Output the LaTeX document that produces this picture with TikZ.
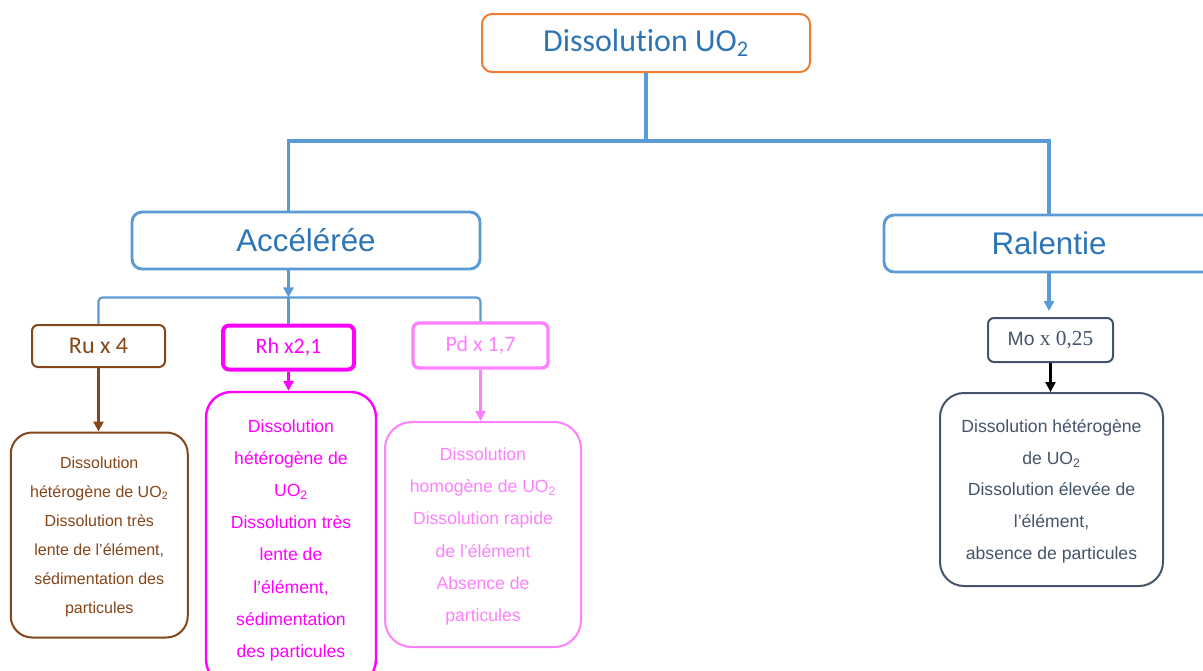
\documentclass[tikz,border=0pt]{standalone}
\usepackage{fontspec}
\setmainfont{Liberation Sans}
\newfontfamily\calib[Ligatures=NoCommon]{Carlito}
\newfontfamily\serifm{Liberation Serif}
\usetikzlibrary{arrows.meta}
\definecolor{lineblue}{HTML}{5B9BD5}
\definecolor{textblue}{HTML}{2E75B6}
\definecolor{orangeb}{HTML}{ED7D31}
\definecolor{brownc}{HTML}{85461A}
\definecolor{mag}{HTML}{FF00FF}
\definecolor{pinkc}{HTML}{FF80FF}
\definecolor{slate}{HTML}{44546A}
\newcommand{\blkdown}[1]{\raisebox{-2.5pt}{\begin{tabular}{@{}c@{}}#1\end{tabular}}}
\begin{document}
\begin{tikzpicture}[x=0.75pt,y=-0.75pt,
  box/.style={draw, fill=white, inner sep=0pt, align=center},
  conn/.style={draw=lineblue, line width=2.3pt},
  thinconn/.style={draw=lineblue, line width=1.6pt, rounded corners=3pt},
  tip/.style={-{Triangle[length=7.5pt,width=7.5pt]}},
  big/.style={font=\fontsize{23.5}{28}\selectfont, text=textblue},
]
\useasboundingbox (0,0) rectangle (1203,671);
\clip (0,0) rectangle (1203,671);
% nodes
\node[box, draw=orangeb, line width=1.5pt, rounded corners=7.5pt, minimum width=246pt, minimum height=43.5pt, text=textblue, font=\calib\fontsize{24}{28}\selectfont] (title) at (646,43) {\raisebox{-1.5pt}{Dissolution UO\textsubscript{2}}};
\node[box, big, draw=lineblue, line width=2.2pt, rounded corners=7.5pt, minimum width=261pt, minimum height=42.75pt] (acc) at (306,240.5) {Accélérée};
\node[box, big, draw=lineblue, line width=2.2pt, rounded corners=7.5pt, minimum width=247.5pt, minimum height=42.75pt] (ral) at (1049,243.5) {Ralentie};
\node[box, draw=brownc, text=brownc, line width=1.5pt, rounded corners=4.5pt, minimum width=99.75pt, minimum height=31.5pt, font=\calib\fontsize{18}{20}\selectfont] (ru) at (98.5,346) {Ru x 4};
\node[box, draw=mag, text=mag, line width=3pt, rounded corners=4.5pt, minimum width=98.25pt, minimum height=33pt, font=\calib\fontsize{16.5}{20}\selectfont] (rh) at (288.5,347.5) {Rh x2,1};
\node[box, draw=pinkc, text=pinkc, line width=2.5pt, rounded corners=4.5pt, minimum width=101.25pt, minimum height=33.75pt, font=\calib\fontsize{16.5}{20}\selectfont] (pd) at (480.5,345.5) {Pd x 1,7};
\node[box, draw=slate, text=slate, line width=1.5pt, rounded corners=4.5pt, minimum width=93.75pt, minimum height=33pt, font=\fontsize{14.5}{18}\selectfont] (mo) at (1050.5,340) {Mo {\serifm\fontsize{16}{18}\selectfont x 0,25}};
\node[box, draw=brownc, text=brownc, line width=1.5pt, rounded corners=16pt, minimum width=132.75pt, minimum height=153.75pt, font=\fontsize{12}{21.75}\selectfont] (rud) at (99.25,535) {\blkdown{Dissolution\\hétérogène de UO\textsubscript{2}\\Dissolution très\\lente de l’élément,\\sédimentation des\\particules}};
\node[box, draw=mag, text=mag, line width=1.8pt, rounded corners=19pt, minimum width=127.5pt, minimum height=219.75pt, font=\fontsize{13.2}{24.1}\selectfont] (rhd) at (291,538.5) {\blkdown{Dissolution\\hétérogène de\\UO\textsubscript{2}\\Dissolution très\\lente de\\l’élément,\\sédimentation\\des particules}};
\node[box, draw=pinkc, text=pinkc, line width=1.5pt, rounded corners=20pt, minimum width=147pt, minimum height=168.75pt, font=\fontsize{13.2}{24.2}\selectfont] (pdd) at (483,534.5) {\blkdown{Dissolution\\homogène de UO\textsubscript{2}\\Dissolution rapide\\de l’élément\\Absence de\\particules}};
\node[box, draw=slate, text=slate, line width=1.5pt, rounded corners=18pt, minimum width=167.25pt, minimum height=144.75pt, font=\fontsize{13.2}{23.8}\selectfont] (mod) at (1051.5,489.5) {\blkdown{Dissolution hétérogène\\de UO\textsubscript{2}\\Dissolution élevée de\\l’élément,\\absence de particules}};
% connectors
\draw[conn] (title.south) -- ++(0,68) coordinate (bus);
\draw[conn] (acc.north -| rh.north) |- (bus) -| (ral.north);
\draw[conn, tip] (acc.south -| rh.north) -- ++(0,27) coordinate (bus2);
\draw[thinconn] (ru.north) |- (bus2) -| (pd.north);
\draw[thinconn] (bus2) -- (rh.north);
\draw[conn, tip, shorten >=4.5pt] (ral.south) -- (ral.south |- mo.north);
\draw[draw=brownc, line width=2.3pt, tip] (ru.south) -- (ru.south |- rud.north);
\draw[draw=mag, line width=2.3pt, tip] (rh.south) -- (rh.south |- rhd.north);
\draw[draw=pinkc, line width=2.3pt, tip] (pd.south) -- (pd.south |- pdd.north);
\draw[draw=black, line width=2.3pt, tip] (mo.south) -- (mo.south |- mod.north);
\end{tikzpicture}
\end{document}
